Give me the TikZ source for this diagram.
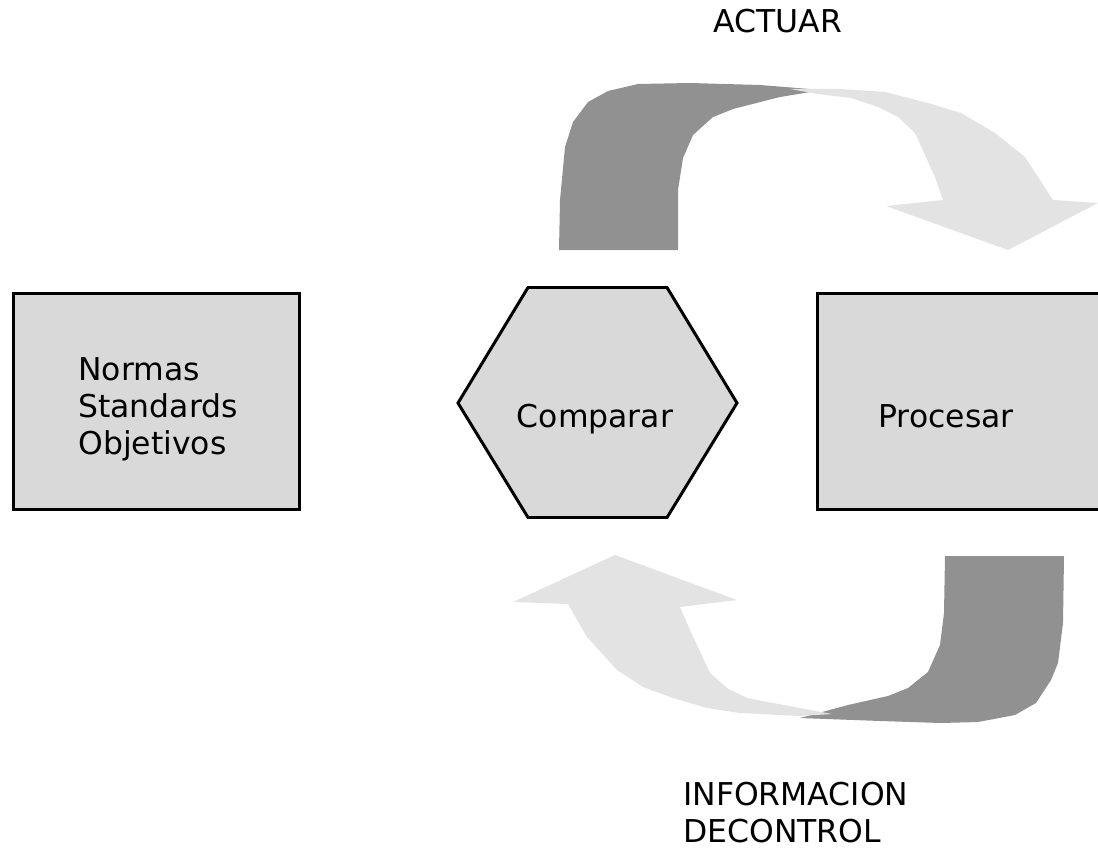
\documentclass[tikz,border=0pt]{standalone}
\usepackage{fontspec}
\setmainfont{DejaVu Sans}
\usepackage{tikz}

\definecolor{boxgray}{RGB}{217,217,217}
\definecolor{darkarrow}{RGB}{145,145,145}
\definecolor{lightarrow}{RGB}{227,227,227}

\begin{document}
\begin{tikzpicture}[x=0.02cm,y=-0.02cm]

\tikzset{every node/.style = {font=\fontsize{17.9}{21}\selectfont}}
\tikzset{box/.style = {shape=rectangle,draw,line width=1.7pt,fill=boxgray,minimum width=5.72cm,minimum height=4.32cm}}
\tikzset{label/.style = {inner sep=0pt}}
\tikzset{dark/.style = {fill=darkarrow}}
\tikzset{light/.style = {fill=lightarrow}}

\useasboundingbox (0,0) rectangle (1098,848);

% boxes
\node[box] (nor) at (156.5,401.5) {};
\node[label,anchor=north west,align=left] (norlbl) at (78,357) {Normas\\Standards\\Objetivos};
\draw[line width=1.7pt,fill=boxgray] (458,403) -- (528,287.5) -- (667,287.5) -- (737,403)
  -- (667,517.5) -- (528,517.5) -- cycle;
\node[label,anchor=base] (cmp) at (595,427) {Comparar};
\node[box,minimum width=6.05cm] (prc) at (968.75,401.5) {};
\node[label,anchor=base] (prclbl) at (946,427) {Procesar};

% actuar arrow
\fill[dark] (559,250) -- (560,200) -- (565,147) -- (573,122) -- (588,102) -- (608,91)
  -- (638,84) -- (690,83) -- (760,85) -- (822,90) -- (780,97) -- (733,109) -- (713,117)
  -- (693,135) -- (683,158) -- (678,190) -- (678,250) -- cycle;
\fill[light] (790,89) -- (840,89) -- (885,92) -- (928,103) -- (961,113) -- (995,133)
  -- (1025,157) -- (1053,200) -- (1098,203) -- (1008,250) -- (886,206) -- (943,200)
  -- (935,177) -- (915,133) -- (898,117) -- (878,107) -- (851,98) -- (818,94) -- cycle;

% informacion arrow
\fill[dark] (945,556) -- (1064,556) -- (1063,623) -- (1058,663) -- (1051,680) -- (1036,703)
  -- (1015,715) -- (978,722) -- (941,723) -- (880,721) -- (800,718) -- (848,705)
  -- (888,696) -- (908,688) -- (928,672) -- (940,645) -- (944,613) -- cycle;
\fill[light] (615,555) -- (737,600) -- (680,607) -- (690,630) -- (710,673) -- (727,688)
  -- (747,698) -- (773,703) -- (832,714) -- (800,716) -- (740,713) -- (707,708)
  -- (673,698) -- (643,687) -- (617,670) -- (587,637) -- (568,604) -- (513,602) -- cycle;

% labels
\node[label,anchor=base west] (act) at (713,33) {ACTUAR};
\node[label,anchor=north west,align=left] (inf) at (683,782) {INFORMACION\\DECONTROL};
\end{tikzpicture}
\end{document}
